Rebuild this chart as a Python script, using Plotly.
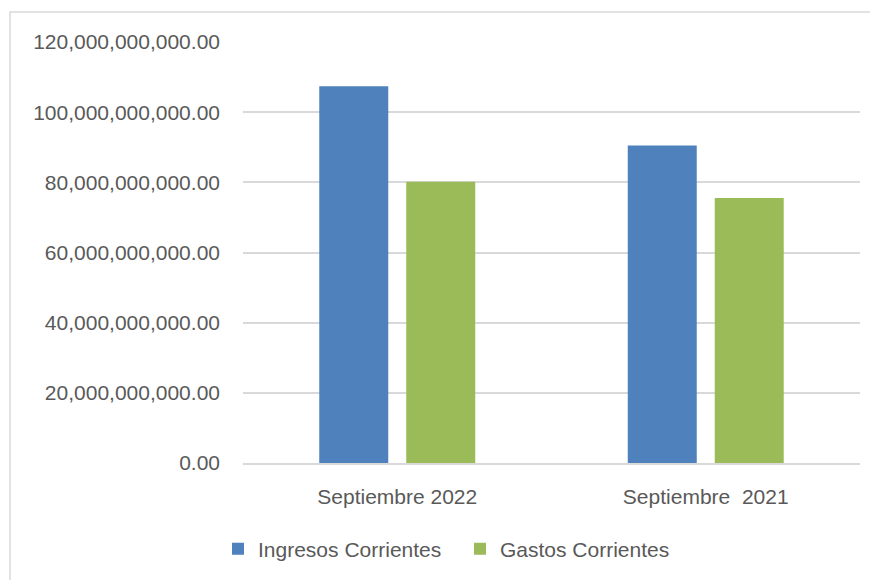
import plotly.graph_objects as go

categories = ["Septiembre 2022", "Septiembre\u00a0 2021"]
ingresos = [107.4e9, 90.5e9]
gastos = [80.2e9, 75.5e9]
y_ticks = [0, 20e9, 40e9, 60e9, 80e9, 100e9, 120e9]

FONT = "Liberation Sans, Arial, sans-serif"
GRAY = "#595959"
FS = 21

fig = go.Figure()
fig.add_bar(name="Ingresos Corrientes", x=categories, y=ingresos, marker=dict(color="#4F81BD", line=dict(width=0)))
fig.add_bar(name="Gastos Corrientes", x=categories, y=gastos, marker=dict(color="#9BBB59", line=dict(width=0)))

# page body has an 8px margin; work in screen coordinates and convert
OFF = 8
W, H = 878 - OFF, 580 - OFF
L, R, T, B = 243 - OFF, 878 - 860, 42 - OFF, 580 - 464
pw, ph = W - L - R, H - T - B

def px(x):
    return (x - OFF - L) / pw

def py(y):
    return (H - B - (y - OFF)) / ph

fig.update_layout(
    width=W, height=H,
    margin=dict(l=L, r=R, t=T, b=B, pad=0),
    paper_bgcolor="white", plot_bgcolor="white",
    barmode="group", bargap=0.436, bargroupgap=0.207,
    font=dict(family=FONT, color=GRAY, size=FS),
    showlegend=True,
    legend=dict(orientation="h", x=px(218), xanchor="left", y=py(549), yanchor="middle",
                font=dict(size=FS, color=GRAY), entrywidth=197, entrywidthmode="pixels",
                traceorder="normal"),
    shapes=[dict(type="rect", xref="paper", yref="paper",
                 x0=px(10), x1=px(900), y0=py(600), y1=py(12),
                 line=dict(color="#d9d9d9", width=1.5), fillcolor="rgba(0,0,0,0)", layer="below")],
)
fig.update_yaxes(range=[0, 120e9], tickvals=y_ticks, tickformat=",.2f",
                 showgrid=True, gridcolor="#d9d9d9", gridwidth=1.5,
                 zeroline=False, showline=False, ticks="", ticklabelstandoff=22,
                 tickfont=dict(size=FS, color=GRAY))
fig.update_xaxes(showline=True, linecolor="#d9d9d9", linewidth=1.5, ticks="",
                 ticklabelstandoff=14, tickfont=dict(size=FS, color=GRAY))

fig.write_html("out.html")
